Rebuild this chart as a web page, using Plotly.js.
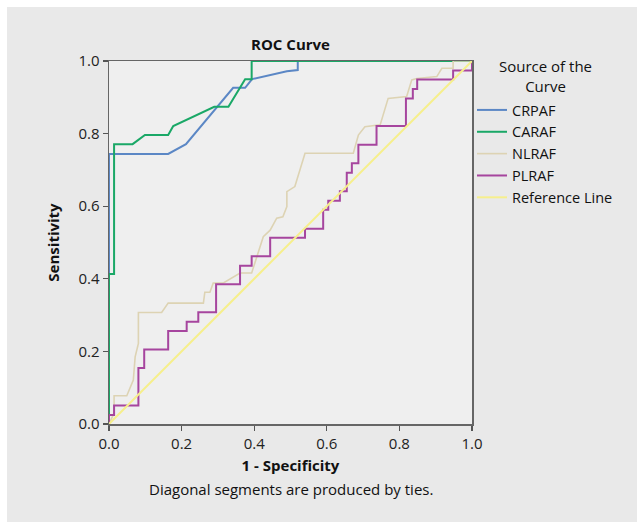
<!DOCTYPE html>
<html><head><meta charset="utf-8">
<script src="https://cdn.plot.ly/plotly-3.0.1.min.js"></script>
<style>
html,body{margin:0;padding:0;background:#ffffff;}
#chart{position:absolute;left:7px;top:7px;width:630px;height:515px;}
</style></head>
<body><div id="chart"></div>
<script>
// Data
const seriesNames = ["CRPAF", "CARAF", "NLRAF", "PLRAF", "Reference Line"];

const crpafX = [0, 0, 0.163, 0.212, 0.342, 0.375, 0.394, 0.49, 0.52, 0.52, 1];
const crpafY = [0, 0.744, 0.744, 0.771, 0.926, 0.926, 0.95, 0.972, 0.975, 1, 1];

const carafX = [0, 0, 0.014, 0.014, 0.065, 0.099, 0.163, 0.177, 0.29, 0.329, 0.375, 0.393, 0.393, 1];
const carafY = [0, 0.413, 0.413, 0.771, 0.771, 0.796, 0.796, 0.821, 0.874, 0.874, 0.95, 0.95, 1, 1];

const nlrafX = [0, 0.014, 0.014, 0.049, 0.067, 0.072, 0.081, 0.081, 0.145, 0.163, 0.26, 0.264, 0.278, 0.287, 0.314, 0.361, 0.393, 0.425, 0.444, 0.462, 0.479, 0.49, 0.49, 0.512, 0.54, 0.673, 0.687, 0.705, 0.747, 0.769, 0.82, 0.834, 0.848, 0.903, 0.917, 0.948, 0.948, 1];
const nlrafY = [0, 0.03, 0.078, 0.078, 0.121, 0.185, 0.222, 0.307, 0.307, 0.333, 0.333, 0.363, 0.363, 0.388, 0.388, 0.416, 0.416, 0.516, 0.534, 0.567, 0.571, 0.599, 0.64, 0.654, 0.746, 0.746, 0.796, 0.819, 0.824, 0.897, 0.902, 0.948, 0.952, 0.957, 0.98, 0.98, 1, 1];

const plrafX = [0, 0, 0.014, 0.014, 0.081, 0.081, 0.097, 0.097, 0.163, 0.163, 0.214, 0.214, 0.246, 0.246, 0.295, 0.295, 0.361, 0.361, 0.393, 0.393, 0.444, 0.444, 0.54, 0.54, 0.59, 0.59, 0.604, 0.604, 0.636, 0.636, 0.655, 0.655, 0.669, 0.669, 0.687, 0.687, 0.737, 0.737, 0.818, 0.818, 0.837, 0.837, 0.849, 0.849, 0.948, 0.948, 1, 1];
const plrafY = [0, 0.025, 0.025, 0.051, 0.051, 0.154, 0.154, 0.205, 0.205, 0.256, 0.256, 0.282, 0.282, 0.308, 0.308, 0.385, 0.385, 0.436, 0.436, 0.462, 0.462, 0.513, 0.513, 0.538, 0.538, 0.59, 0.59, 0.615, 0.615, 0.641, 0.641, 0.692, 0.692, 0.718, 0.718, 0.769, 0.769, 0.821, 0.821, 0.897, 0.897, 0.923, 0.923, 0.949, 0.949, 0.974, 0.974, 1];

const refX = [0, 1];
const refY = [0, 1];

const tickVals = [0, 0.2, 0.4, 0.6, 0.8, 1.0];
const tickText = ["0.0", "0.2", "0.4", "0.6", "0.8", "1.0"];

const colors = ["#5b87c5", "#1aa867", "#ddd3b3", "#a6459e", "#f6ef8c"];
const widths = [2, 2, 1.6, 2, 2];

const FONT = "'Open Sans', 'Noto Sans', sans-serif";

const xs = [crpafX, carafX, nlrafX, plrafX, refX];
const ys = [crpafY, carafY, nlrafY, plrafY, refY];

const traces = seriesNames.map((n, i) => ({
  type: "scatter", mode: "lines", name: n,
  x: xs[i], y: ys[i],
  line: {color: colors[i], width: widths[i]},
  hoverinfo: "skip"
}));

const axisCommon = {
  range: [0, 1], tickvals: tickVals, ticktext: tickText,
  ticks: "outside", ticklen: 5, tickwidth: 1.2, tickcolor: "#555",
  showline: true, linecolor: "#666", linewidth: 1.5, mirror: true,
  showgrid: false, zeroline: false, automargin: false,
  tickfont: {family: FONT, size: 15, color: "#222"}
};

const layout = {
  width: 630, height: 515,
  margin: {l: 102, r: 165, t: 54, b: 98},
  paper_bgcolor: "#e9e9e9",
  plot_bgcolor: "#efefef",
  font: {family: FONT, color: "#111"},
  title: {text: "<b>ROC Curve</b>", font: {family: FONT, size: 15, color: "#111"},
          x: 0.5, xref: "paper", xanchor: "center", y: 1 - 38/515, yanchor: "middle"},
  xaxis: Object.assign({}, axisCommon, {
    title: {text: "<b>1 - Specificity</b>", font: {family: FONT, size: 15, color: "#111"}, standoff: 9}
  }),
  yaxis: Object.assign({}, axisCommon, {
    title: {text: "<b>Sensitivity</b>", font: {family: FONT, size: 15, color: "#111"}, standoff: 15}
  }),
  legend: {
    xref: "container", yref: "container",
    x: 465/630, xanchor: "left", y: 1 - 87/515, yanchor: "top",
    bgcolor: "rgba(0,0,0,0)",
    font: {family: FONT, size: 14.5, color: "#111"},
    itemwidth: 30, tracegroupgap: 0
  },
  annotations: [{
    text: "Diagonal segments are produced by ties.",
    xref: "paper", yref: "paper", x: 0.5, y: 0, yshift: -65,
    xanchor: "center", yanchor: "middle", showarrow: false,
    font: {family: FONT, size: 15, color: "#111"}
  }, {
    text: "Source of the<br>Curve", align: "center",
    xref: "paper", yref: "paper", x: (538 - 102) / 363, y: (417 - 69) / 363,
    xanchor: "center", yanchor: "middle", showarrow: false,
    font: {family: FONT, size: 15, color: "#111"}
  }],
  showlegend: true
};

Plotly.newPlot("chart", traces, layout, {displayModeBar: false, staticPlot: true});
</script></body></html>
